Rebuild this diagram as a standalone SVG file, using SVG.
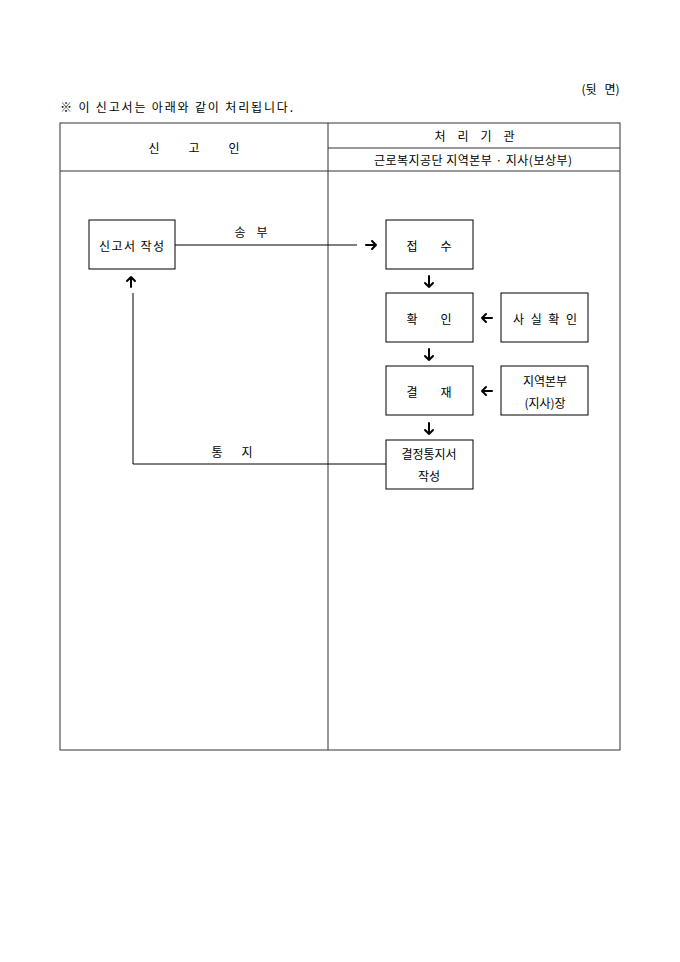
<svg xmlns="http://www.w3.org/2000/svg" width="680" height="962" viewBox="0 0 680 962">
<style>
text{font-family:"Noto Sans CJK KR","Noto Sans KR",sans-serif;font-size:12px;fill:#000;text-anchor:middle;dominant-baseline:central}
.tbl{fill:none;stroke:#333;stroke-width:1}
.box{fill:#fff;stroke:#000;stroke-width:1}
.ln{fill:none;stroke:#000;stroke-width:1}
.ar{fill:none;stroke:#000;stroke-width:2;stroke-linecap:round;stroke-linejoin:round}
</style>
<rect width="680" height="962" fill="#fff"/>
<text x="589" y="88">(뒷</text><text x="612" y="88">면)</text>
<text x="60" y="106" style="text-anchor:start" textLength="233" lengthAdjust="spacing">※ 이 신고서는 아래와 같이 처리됩니다.</text>
<g id="table">
<rect class="tbl" x="60" y="123" width="560" height="627"/>
<line class="tbl" x1="328" y1="123" x2="328" y2="750"/>
<line class="tbl" x1="60" y1="171" x2="620" y2="171"/>
<line class="tbl" x1="328" y1="148" x2="620" y2="148"/>
<text x="154" y="147">신</text><text x="194" y="147">고</text><text x="234" y="147">인</text>
<text x="440" y="135">처</text><text x="463" y="135">리</text><text x="486" y="135">기</text><text x="509" y="135">관</text>
<text x="374" y="159" style="text-anchor:start" textLength="198" lengthAdjust="spacing">근로복지공단 지역본부 · 지사(보상부)</text>
</g>
<g id="connectors">
<line class="ln" x1="175" y1="245" x2="357" y2="245"/>
<text x="240" y="231">송</text><text x="262" y="231">부</text>
<path class="ar" d="M366 245 H376 M372 241 L376 245 L372 249"/>
<path class="ar" d="M429 276 V287 M425 283 L429 287 L433 283"/>
<path class="ar" d="M429 349 V360 M425 356 L429 360 L433 356"/>
<path class="ar" d="M429 423 V434 M425 430 L429 434 L433 430"/>
<path class="ar" d="M492 318 H482 M486 314 L482 318 L486 322"/>
<path class="ar" d="M492 391 H482 M486 387 L482 391 L486 395"/>
<polyline class="ln" points="386,464 133,464 133,293"/>
<path class="ar" d="M131 287 V277 M127 281 L131 277 L135 281"/>
<text x="217" y="451">통</text><text x="247" y="451">지</text>
</g>
<g id="n1"><rect class="box" x="89" y="220" width="86" height="49"/><text x="99" y="245" style="text-anchor:start" textLength="65" lengthAdjust="spacing">신고서 작성</text></g>
<g id="n2"><rect class="box" x="386" y="220" width="87" height="49"/><text x="412" y="245">접</text><text x="446" y="245">수</text></g>
<g id="n3"><rect class="box" x="386" y="293" width="87" height="49"/><text x="412" y="318">확</text><text x="446" y="318">인</text></g>
<g id="n4"><rect class="box" x="501" y="293" width="87" height="49"/><text x="513" y="318" style="text-anchor:start" textLength="64" lengthAdjust="spacing">사 실 확 인</text></g>
<g id="n5"><rect class="box" x="386" y="366" width="87" height="49"/><text x="412" y="391">결</text><text x="446" y="391">재</text></g>
<g id="n6"><rect class="box" x="501" y="366" width="87" height="49"/><text x="545" y="380">지역본부</text><text x="545" y="402">(지사)장</text></g>
<g id="n7"><rect class="box" x="386" y="440" width="87" height="49"/><text x="429" y="453">결정통지서</text><text x="429" y="475">작성</text></g>
</svg>
